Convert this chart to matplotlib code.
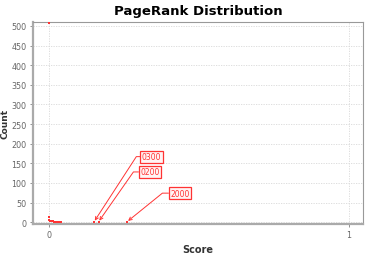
import matplotlib
matplotlib.use("Agg")
import matplotlib.pyplot as plt

# PageRank score -> count of nodes
scores = [0.0, 0.0, 0.0, 0.004, 0.008, 0.012, 0.016, 0.02, 0.025, 0.03, 0.035, 0.04, 0.15, 0.165, 0.26]
counts = [507, 12, 5, 3, 2, 2, 1, 1, 1, 1, 1, 1, 1, 1, 1]

# labelled nodes
label_names = ["0300", "0200", "2000"]
label_x = [0.15, 0.165, 0.26]
label_y = [1, 1, 1]
label_text_pos = [(0.31, 167), (0.305, 128), (0.405, 74)]
label_angle = [57, 55, 39]

red = "#ff3333"

fig = plt.figure(figsize=(3.82, 2.55), dpi=100)
ax = fig.add_axes([0.086, 0.117, 0.864, 0.793])

ax.scatter(scores, counts, marker="s", s=3, color=red, linewidths=0, zorder=3)

for name, x, y, tp, ang in zip(label_names, label_x, label_y, label_text_pos, label_angle):
    ax.annotate(name, xy=(x, y), xytext=tp, fontsize=5.5, color=red,
                ha="left", va="center",
                bbox=dict(boxstyle="square,pad=0.2", fc="#fff4f4", ec=red, lw=0.9),
                arrowprops=dict(arrowstyle="->", color=red, lw=0.7,
                                connectionstyle="angle,angleA=0,angleB=%d,rad=0" % ang,
                                shrinkA=0, shrinkB=1),
                zorder=4)

ax.set_xlim(-0.054, 1.047)
ax.set_ylim(-5, 510)
ax.set_xticks([0, 1])
ax.set_xticklabels(["0", "1"])
ax.set_yticks(range(0, 501, 50))
ax.tick_params(labelsize=5.8, colors="#666666", length=2, width=0.5, pad=2.5)
ax.grid(True, linestyle=(0, (1.5, 1.5)), color="#d8d8d8", linewidth=0.6)
ax.set_axisbelow(True)

for s in ax.spines.values():
    s.set_color("#999999")
    s.set_linewidth(0.8)
ax.spines["left"].set_linewidth(1.6)
ax.spines["bottom"].set_linewidth(1.6)
ax.spines["left"].set_color("#aaaaaa")
ax.spines["bottom"].set_color("#aaaaaa")

ax.set_title("PageRank Distribution", fontsize=9.5, fontweight="bold", pad=6)
ax.set_xlabel("Score", fontsize=7, fontweight="bold", color="#333333")
ax.set_ylabel("Count", fontsize=6.5, fontweight="bold", color="#333333")
ax.xaxis.set_label_coords(0.5, -0.1)
ax.yaxis.set_label_coords(-0.07, 0.5)

fig.savefig("out.png", dpi=100)
